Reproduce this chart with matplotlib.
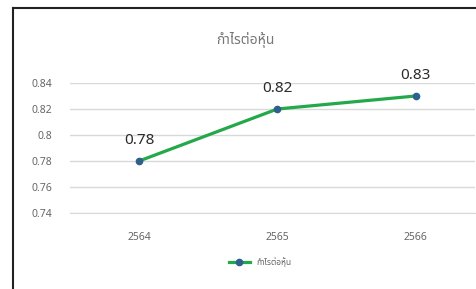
import matplotlib
matplotlib.use("Agg")
import matplotlib.pyplot as plt
from matplotlib.lines import Line2D

# data
years = ["2564", "2565", "2566"]
eps = [0.78, 0.82, 0.83]
yticks = [0.74, 0.76, 0.78, 0.80, 0.82, 0.84]
ytick_labels = ["0.74", "0.76", "0.78", "0.8", "0.82", "0.84"]
title = "กำไรต่อหุ้น"

plt.rcParams['font.family'] = ['Noto Sans Thai', 'Loma', 'Garuda', 'Tahoma', 'Noto Sans', 'DejaVu Sans']

fig = plt.figure(figsize=(4.77, 2.89), dpi=100)
ax = fig.add_axes([70 / 477, 1 - 213 / 289, 405 / 477, 130 / 289])

x = range(len(years))
ax.plot(x, eps, color="#23a84a", lw=2.3, marker="o", ms=4.5,
        mfc="#2f5f8c", mec="#2f5f8c", label="กำไรต่อหุ้น", zorder=3)
for xi, v in zip(x, eps):
    ax.annotate(f"{v:.2f}", (xi, v), xytext=(0, 9), textcoords="offset points",
                ha="center", va="bottom", fontsize=11, color="#2b2b2b")

ax.set_xlim(-0.5, 2.43)
ax.set_ylim(0.74, 0.84)
ax.set_yticks(yticks)
ax.set_yticklabels(ytick_labels)
ax.set_xticks(list(x))
ax.set_xticklabels(years)
ax.grid(axis="y", color="#d9d9d9", lw=1)
ax.set_axisbelow(True)
for s in ax.spines.values():
    s.set_visible(False)
ax.spines["bottom"].set_visible(True)
ax.spines["bottom"].set_color("#d9d9d9")
ax.tick_params(length=0, labelsize=7.5, labelcolor="#666666")
ax.tick_params(axis="x", pad=14)
ax.tick_params(axis="y", pad=13)

fig.text(245 / 477, 1 - 40 / 289, title, ha="center", va="center", fontsize=10, color="#777777")
ax.legend(loc="upper center", bbox_to_anchor=(0.47, -0.28), frameon=False,
          fontsize=6, handlelength=2.5, labelcolor="#666666")

# outer frame of the screenshot
fig.add_artist(Line2D([13 / 477, 13 / 477], [0, 1 - 8 / 289], color="#222222", lw=1.5, transform=fig.transFigure))
fig.add_artist(Line2D([13 / 477, 1], [1 - 8 / 289, 1 - 8 / 289], color="#222222", lw=1.5, transform=fig.transFigure))

fig.savefig("out.png", dpi=100)
